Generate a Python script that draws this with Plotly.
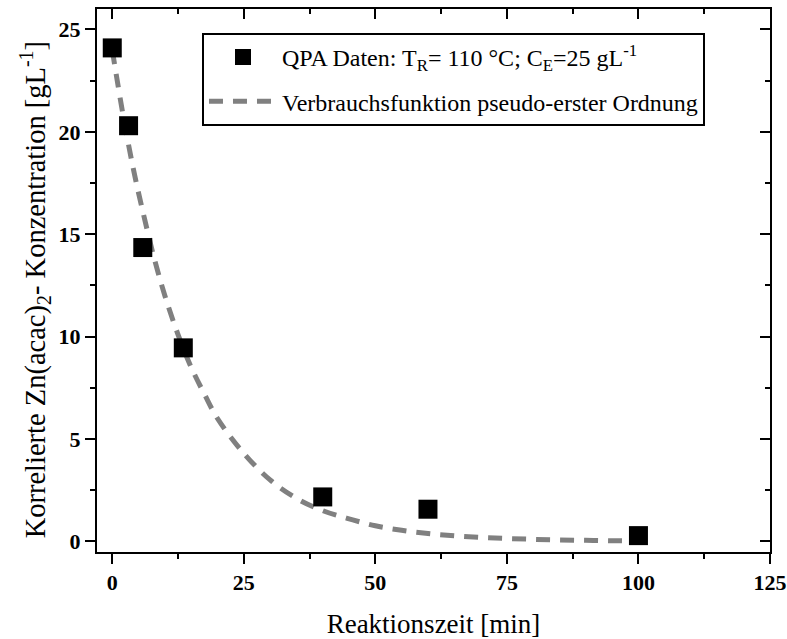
import plotly.graph_objects as go

# measured data (QPA)
t_data = [0, 3.1, 5.8, 13.5, 40, 60, 100]
c_data = [24.1, 20.3, 14.35, 9.45, 2.17, 1.57, 0.28]

# pseudo-first-order curve, values
t_fit = [0, 2, 4, 6, 8, 10, 12.5, 15, 17.5, 20, 25, 30, 35, 40, 45, 50, 55, 60,
         65, 70, 75, 80, 85, 90, 95, 100]
c_fit = [24.0, 20.9, 18.2, 15.9, 13.8, 12.0, 10.1, 8.5, 7.2, 6.0, 4.3, 3.0, 2.1,
         1.5, 1.1, 0.76, 0.54, 0.38, 0.27, 0.19, 0.14, 0.10, 0.07, 0.05, 0.03, 0.02]

x_ticks = [0, 25, 50, 75, 100, 125]
y_ticks = [0, 5, 10, 15, 20, 25]

FONT = "Times New Roman, Liberation Serif, serif"

fig = go.Figure()
fig.add_trace(go.Scatter(
    x=t_fit, y=c_fit, mode="lines", line_shape="spline",
    line=dict(color="#808080", width=5, dash="14px,10px"),
    name="Verbrauchsfunktion pseudo-erster Ordnung", legendgroup="b", legendrank=2))
fig.add_trace(go.Scatter(
    x=t_data, y=c_data, mode="markers",
    marker=dict(symbol="square", size=19, color="black"),
    name="QPA Daten: T<sub>R</sub>= 110 °C; C<sub>E</sub>=25 gL<sup>-1</sup>",
    legendgroup="a", legendrank=1))
# dummy for mirrored axes
fig.add_trace(go.Scatter(x=[None], y=[None], xaxis="x2", yaxis="y2", showlegend=False))

common = dict(showline=True, linecolor="black", linewidth=2, ticklen=10, tickwidth=2,
              tickcolor="black", showgrid=False, zeroline=False, automargin=False)

fig.update_layout(
    width=787, height=639,
    margin=dict(l=97, r=17, t=9, b=87),
    paper_bgcolor="white", plot_bgcolor="white",
    font=dict(family=FONT, color="black"),
    xaxis=dict(range=[-2.9, 125], tickvals=x_ticks, ticks="outside",
               tickfont=dict(family=FONT, size=22, weight="bold"),
               minor=dict(dtick=12.5, tick0=0, ticklen=5, tickwidth=2, ticks="outside", tickcolor="black"),
               title=dict(text="Reaktionszeit [min]", font=dict(family=FONT, size=27), standoff=22),
               **common),
    yaxis=dict(range=[-0.52, 26.0], tickvals=y_ticks, ticks="outside",
               tickfont=dict(family=FONT, size=22, weight="bold"),
               minor=dict(dtick=2.5, tick0=0, ticklen=5, tickwidth=2, ticks="outside", tickcolor="black"),
               **common),
    xaxis2=dict(overlaying="x", matches="x", side="top", anchor="y", ticks="inside",
                tickvals=x_ticks, showticklabels=False,
                minor=dict(dtick=12.5, tick0=0, ticklen=5, tickwidth=2, ticks="inside", tickcolor="black"),
                **common),
    yaxis2=dict(overlaying="y", matches="y", side="right", anchor="x", ticks="inside",
                tickvals=y_ticks, showticklabels=False,
                minor=dict(dtick=2.5, tick0=0, ticklen=5, tickwidth=2, ticks="inside", tickcolor="black"),
                **common),
    annotations=[dict(
        text="Korrelierte Zn(acac)<sub>2</sub>- Konzentration [gL<sup>-1</sup>]",
        textangle=-90, xref="paper", yref="paper", x=-0.092, y=0.482,
        xanchor="center", yanchor="middle", showarrow=False,
        font=dict(family=FONT, size=28.5))],
    showlegend=True,
    legend=dict(x=0.156, y=0.956, xanchor="left", yanchor="top",
                bordercolor="black", borderwidth=2, bgcolor="white",
                font=dict(family=FONT, size=24), itemwidth=68,
                traceorder="grouped", tracegroupgap=10),
)

fig.write_html("out.html")
